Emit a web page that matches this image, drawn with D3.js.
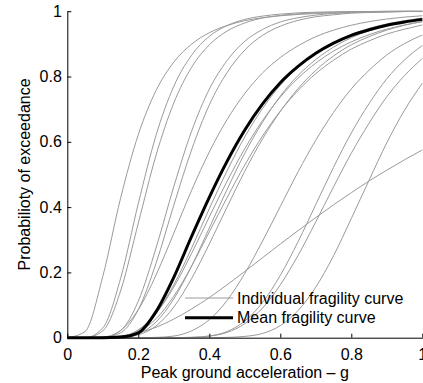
<!DOCTYPE html>
<html>
    <head>
        <script src="https://d3js.org/d3.v7.min.js"></script>
        <style>
            body { margin: 0; background: #fff; }
            text { font-family: "Liberation Sans", Arial, Helvetica, sans-serif; }
        </style>
    </head>
<body>
    <div id="chart"></div>

    <script>
        const svgWidth = 423;
        const svgHeight = 383;

        // PGA sample points (g), shared by every curve
        const pga = [0, 0.05, 0.1, 0.15, 0.2, 0.25, 0.3, 0.35, 0.4, 0.45, 0.5,
                     0.55, 0.6, 0.65, 0.7, 0.75, 0.8, 0.85, 0.9, 0.95, 1];

        // individual fragility curves, probability of exceedance at each pga
        const curve01 = [0, 0.019, 0.188, 0.427, 0.622, 0.757, 0.844, 0.899, 0.934, 0.956, 0.971, 0.980, 0.986, 0.990, 0.993, 0.995, 0.996, 0.997, 0.998, 0.999, 0.999];
        const curve02 = [0, 0, 0.030, 0.181, 0.411, 0.620, 0.770, 0.865, 0.923, 0.956, 0.975, 0.985, 0.991, 0.995, 0.997, 0.998, 0.999, 0.999, 1, 1, 1];
        const curve03 = [0, 0, 0.021, 0.143, 0.351, 0.559, 0.719, 0.828, 0.897, 0.939, 0.964, 0.979, 0.987, 0.992, 0.995, 0.997, 0.998, 0.999, 0.999, 1, 1];
        const curve04 = [0, 0, 0.001, 0.022, 0.112, 0.275, 0.463, 0.632, 0.761, 0.849, 0.908, 0.944, 0.967, 0.980, 0.988, 0.993, 0.996, 0.997, 0.998, 0.999, 0.999];
        const curve05 = [0, 0, 0.001, 0.015, 0.086, 0.228, 0.406, 0.575, 0.713, 0.812, 0.881, 0.926, 0.954, 0.972, 0.983, 0.989, 0.994, 0.996, 0.998, 0.999, 0.999];
        const curve06 = [0, 0, 0.002, 0.022, 0.086, 0.192, 0.320, 0.451, 0.569, 0.668, 0.748, 0.811, 0.858, 0.894, 0.922, 0.942, 0.957, 0.968, 0.976, 0.982, 0.986];
        const curve07 = [0, 0, 0, 0.003, 0.023, 0.075, 0.162, 0.274, 0.395, 0.511, 0.615, 0.702, 0.773, 0.828, 0.871, 0.904, 0.929, 0.947, 0.961, 0.971, 0.979];
        const curve08 = [0, 0, 0, 0.004, 0.024, 0.074, 0.155, 0.258, 0.370, 0.479, 0.579, 0.665, 0.737, 0.795, 0.841, 0.878, 0.906, 0.928, 0.945, 0.958, 0.968];
        const curve09 = [0, 0, 0, 0.001, 0.012, 0.048, 0.119, 0.219, 0.336, 0.454, 0.565, 0.660, 0.740, 0.803, 0.852, 0.890, 0.919, 0.940, 0.956, 0.968, 0.977];
        const curve10 = [0, 0, 0, 0.003, 0.018, 0.058, 0.127, 0.219, 0.324, 0.429, 0.529, 0.618, 0.694, 0.757, 0.809, 0.850, 0.884, 0.909, 0.930, 0.945, 0.958];
        const curve11 = [0, 0, 0, 0.001, 0.009, 0.036, 0.094, 0.181, 0.287, 0.400, 0.510, 0.609, 0.693, 0.763, 0.819, 0.863, 0.897, 0.922, 0.942, 0.957, 0.968];
        const curve12 = [0, 0, 0, 0, 0, 0.001, 0.005, 0.021, 0.055, 0.114, 0.197, 0.296, 0.402, 0.508, 0.605, 0.690, 0.762, 0.819, 0.866, 0.901, 0.927];
        const curve13 = [0, 0, 0, 0, 0, 0, 0, 0.001, 0.005, 0.019, 0.051, 0.108, 0.191, 0.294, 0.408, 0.522, 0.627, 0.717, 0.793, 0.851, 0.895];
        const curve14 = [0, 0, 0, 0, 0, 0, 0, 0.001, 0.005, 0.016, 0.043, 0.091, 0.162, 0.252, 0.355, 0.462, 0.565, 0.657, 0.738, 0.803, 0.855];
        const curve15 = [0, 0, 0, 0, 0, 0, 0, 0, 0, 0.001, 0.004, 0.013, 0.037, 0.083, 0.155, 0.251, 0.365, 0.482, 0.597, 0.697, 0.779];
        const curve16 = [0, 0, 0.001, 0.005, 0.015, 0.032, 0.057, 0.088, 0.123, 0.162, 0.203, 0.245, 0.287, 0.328, 0.368, 0.407, 0.444, 0.480, 0.513, 0.545, 0.575];

        const individualCurves = [curve01, curve02, curve03, curve04, curve05, curve06, curve07, curve08,
                                  curve09, curve10, curve11, curve12, curve13, curve14, curve15, curve16];

        // mean fragility curve
        const meanCurve = [0, 0, 0, 0.002, 0.015, 0.080, 0.185, 0.310, 0.430, 0.540, 0.636, 0.716, 0.781, 0.831, 0.871, 0.902, 0.926, 0.943, 0.957, 0.967, 0.975];

        const xTicks = [0, 0.2, 0.4, 0.6, 0.8, 1];
        const xTickLabels = ["0", "0.2", "0.4", "0.6", "0.8", "1"];
        const yTicks = [0, 0.2, 0.4, 0.6, 0.8, 1];
        const yTickLabels = ["0", "0.2", "0.4", "0.6", "0.8", "1"];

        const legendLabels = ["Individual fragility curve", "Mean fragility curve"];

        ////////////////////////////////////////////////////////////////////////////////

        const margin = {top: 11.2, right: 0.7, bottom: 45.3, left: 67.3};
        const width = svgWidth - margin.left - margin.right;
        const height = svgHeight - margin.top - margin.bottom;

        const svg = d3.select("#chart")
            .append("svg")
            .attr("width", svgWidth)
            .attr("height", svgHeight);

        const g = svg.append("g")
            .attr("transform", `translate(${margin.left},${margin.top})`);

        const x = d3.scaleLinear().domain([0, 1]).range([0, width]);
        const y = d3.scaleLinear().domain([0, 1]).range([height, 0]);

        const line = d3.line()
            .x((d, i) => x(pga[i]))
            .y(d => y(d))
            .curve(d3.curveMonotoneX);

        // grey curves first, mean on top
        g.selectAll(".indiv")
            .data(individualCurves)
            .enter().append("path")
            .attr("class", "indiv")
            .attr("fill", "none")
            .attr("stroke", "#9a9a9a")
            .attr("stroke-width", 1)
            .attr("d", line);

        g.append("path")
            .datum(meanCurve)
            .attr("fill", "none")
            .attr("stroke", "#000")
            .attr("stroke-width", 3)
            .attr("d", line);

        // axes, ticks point inward
        const xAxis = g.append("g")
            .attr("transform", `translate(0,${height})`)
            .call(d3.axisBottom(x)
                .tickValues(xTicks)
                .tickFormat((d, i) => xTickLabels[i])
                .tickSizeInner(-4)
                .tickSizeOuter(0)
                .tickPadding(11));

        const yAxis = g.append("g")
            .call(d3.axisLeft(y)
                .tickValues(yTicks)
                .tickFormat((d, i) => yTickLabels[i])
                .tickSizeInner(-4)
                .tickSizeOuter(0)
                .tickPadding(5.5));

        [xAxis, yAxis].forEach(a => {
            a.attr("font-size", 16).attr("font-family", null);
            a.selectAll("path, line").attr("stroke", "#000");
            a.selectAll("text").attr("fill", "#000");
        });

        // axis titles
        g.append("text")
            .attr("x", width / 2)
            .attr("y", height + 40)
            .attr("text-anchor", "middle")
            .attr("font-size", 16)
            .text("Peak ground acceleration \u2013 g");

        g.append("text")
            .attr("transform", `translate(${30 - margin.left},${height / 2}) rotate(-90)`)
            .attr("text-anchor", "middle")
            .attr("font-size", 16)
            .text("Probabilioty of exceedance");

        // legend (no box)
        const legend = g.append("g")
            .attr("transform", `translate(${185 - margin.left},${298 - margin.top})`);

        legendLabels.forEach((label, i) => {
            const row = legend.append("g").attr("transform", `translate(0,${i * 19.7})`);
            row.append("line")
                .attr("x1", 0).attr("x2", 48)
                .attr("y1", 0).attr("y2", 0)
                .attr("stroke", i === 0 ? "#9a9a9a" : "#000")
                .attr("stroke-width", i === 0 ? 1 : 3);
            row.append("text")
                .attr("x", 52)
                .attr("y", 5.6)
                .attr("font-size", 16)
                .text(label);
        });
    </script>
</body>
</html>
